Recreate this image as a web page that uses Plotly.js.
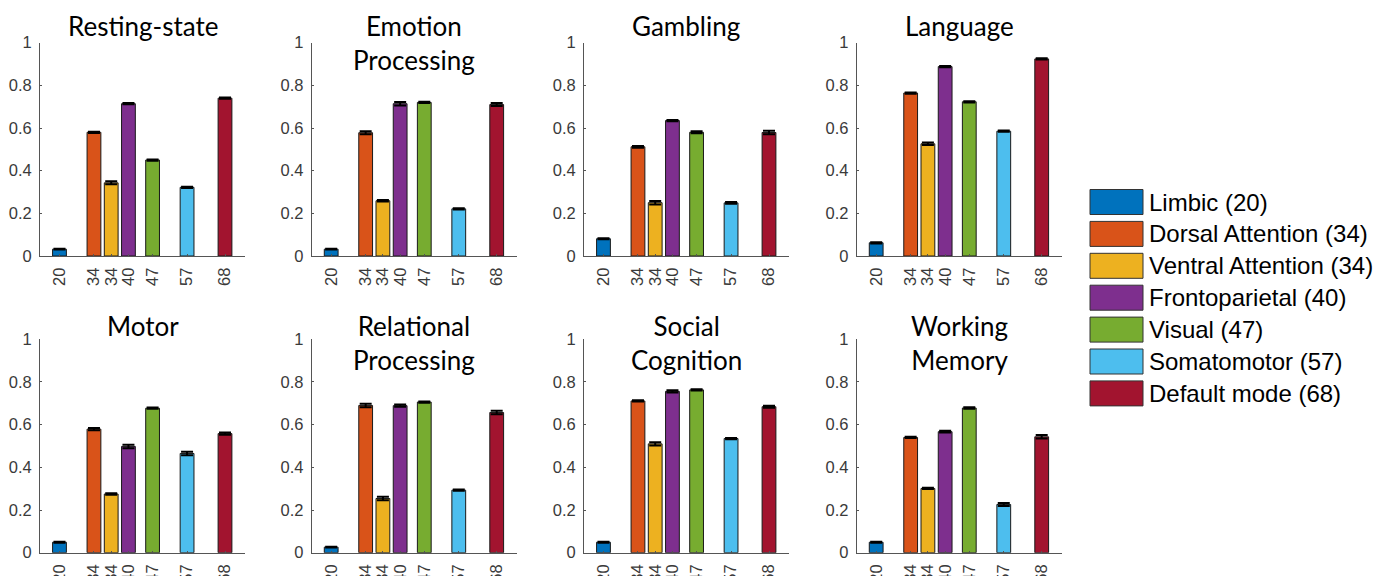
<!DOCTYPE html>
<html>
<head>
<meta charset="utf-8">
<script src="https://cdn.plot.ly/plotly-3.0.1.min.js"></script>
<style>
  html, body { margin: 0; padding: 0; background: #ffffff; }
  #chart { width: 1391px; height: 576px; }
</style>
</head>
<body>
<div id="chart"></div>
<script>
// ---------------- DATA ----------------
const networks = ['Limbic', 'Dorsal Attention', 'Ventral Attention', 'Frontoparietal', 'Visual', 'Somatomotor', 'Default mode'];
const networkSizes = [20, 34, 34, 40, 47, 57, 68];
const barPositions = [20, 30, 35, 40, 47, 57, 68];
const tickLabels = ['20', '34', '34', '40', '47', '57', '68'];
const networkColors = ['#0072BD', '#D95319', '#EDB120', '#7E2F8E', '#77AC30', '#4DBEEE', '#A2142F'];

const tasks = ['Resting-state', 'Emotion<br>Processing', 'Gambling', 'Language',
               'Motor', 'Relational<br>Processing', 'Social<br>Cognition', 'Working<br>Memory'];

const restingState     = [0.032, 0.580, 0.343, 0.714, 0.450, 0.322, 0.740];
const emotionProc      = [0.032, 0.578, 0.259, 0.714, 0.720, 0.221, 0.710];
const gambling         = [0.081, 0.512, 0.250, 0.635, 0.580, 0.249, 0.579];
const language         = [0.062, 0.764, 0.526, 0.888, 0.723, 0.585, 0.924];
const motor            = [0.049, 0.579, 0.275, 0.498, 0.677, 0.465, 0.558];
const relationalProc   = [0.026, 0.690, 0.254, 0.689, 0.706, 0.293, 0.657];
const socialCognition  = [0.049, 0.711, 0.510, 0.756, 0.763, 0.535, 0.684];
const workingMemory    = [0.049, 0.540, 0.301, 0.567, 0.678, 0.226, 0.543];

const restingStateErr    = [0.002, 0.003, 0.007, 0.003, 0.003, 0.003, 0.003];
const emotionProcErr     = [0.002, 0.007, 0.003, 0.008, 0.003, 0.003, 0.007];
const gamblingErr        = [0.002, 0.004, 0.008, 0.003, 0.005, 0.004, 0.008];
const languageErr        = [0.003, 0.003, 0.006, 0.003, 0.003, 0.003, 0.003];
const motorErr           = [0.002, 0.005, 0.003, 0.008, 0.003, 0.008, 0.005];
const relationalProcErr  = [0.002, 0.008, 0.008, 0.005, 0.003, 0.003, 0.008];
const socialCognitionErr = [0.002, 0.003, 0.008, 0.005, 0.003, 0.003, 0.005];
const workingMemoryErr   = [0.002, 0.003, 0.003, 0.004, 0.003, 0.007, 0.008];

const taskValues = [restingState, emotionProc, gambling, language, motor, relationalProc, socialCognition, workingMemory];
const taskErrors = [restingStateErr, emotionProcErr, gamblingErr, languageErr, motorErr, relationalProcErr, socialCognitionErr, workingMemoryErr];

// ---------------- LAYOUT ----------------
const W = 1391, H = 576;
const colLeftPx = [40, 311.7, 584, 856.7];
const panelWidthPx = 205;
const rowTopPx = [42.7, 339.3];
const rowBottomPx = [256, 552.7];
const titleTopPx = [8, 308];

const tickFont = { family: 'Liberation Sans, Arial, sans-serif', size: 16.5, color: '#3a3a3a' };

const data = [];
const layout = {
  width: W, height: H,
  margin: { l: 0, r: 0, t: 0, b: 0 },
  paper_bgcolor: '#ffffff',
  plot_bgcolor: '#ffffff',
  showlegend: false,
  annotations: [],
  shapes: []
};

for (let i = 0; i < 8; i++) {
  const row = Math.floor(i / 4), col = i % 4;
  const idx = i + 1;
  const xa = idx === 1 ? 'xaxis' : 'xaxis' + idx;
  const ya = idx === 1 ? 'yaxis' : 'yaxis' + idx;
  const xr = idx === 1 ? 'x' : 'x' + idx;
  const yr = idx === 1 ? 'y' : 'y' + idx;

  data.push({
    type: 'bar',
    x: barPositions,
    y: taskValues[i],
    width: 4,
    xaxis: xr, yaxis: yr,
    marker: { color: networkColors, line: { color: '#1a1a1a', width: 1 } },
    error_y: { type: 'data', array: taskErrors[i], visible: true, color: '#000000', thickness: 2, width: 6 },
    hoverinfo: 'x+y'
  });

  const x0 = colLeftPx[col] / W, x1 = (colLeftPx[col] + panelWidthPx) / W;
  layout[xa] = {
    domain: [x0, x1],
    anchor: yr,
    range: [14.35, 73.8],
    tickmode: 'array',
    tickvals: barPositions,
    ticktext: tickLabels,
    tickangle: -90,
    ticks: 'inside', ticklen: 2, tickcolor: '#555',
    showline: true, linecolor: '#555', linewidth: 1,
    showgrid: false, zeroline: false,
    tickfont: tickFont,
    ticklabelstandoff: 4,
    fixedrange: true
  };
  layout[ya] = {
    domain: [1 - rowBottomPx[row] / H, 1 - rowTopPx[row] / H],
    anchor: xr,
    range: [0, 1],
    tickmode: 'array',
    tickvals: [0, 0.2, 0.4, 0.6, 0.8, 1],
    ticktext: ['0', '0.2', '0.4', '0.6', '0.8', '1'],
    ticks: 'inside', ticklen: 2, tickcolor: '#555',
    showline: true, linecolor: '#555', linewidth: 1,
    showgrid: false, zeroline: false,
    tickfont: tickFont,
    ticklabelstandoff: 4,
    fixedrange: true
  };

  layout.annotations.push({
    text: tasks[i],
    xref: 'paper', yref: 'paper',
    x: (x0 + x1) / 2, y: 1 - titleTopPx[row] / H,
    xanchor: 'center', yanchor: 'top',
    showarrow: false,
    font: { family: 'Lato, Carlito, sans-serif', size: 26, color: '#000000' }
  });
}

// Custom legend (swatches + labels) on the right
const legSwatchX0 = 1090, legSwatchX1 = 1143, legTop = 202, legStep = 31.9, legSwatchH = 25;
for (let k = 0; k < networks.length; k++) {
  const cy = legTop + k * legStep;
  layout.shapes.push({
    type: 'rect', xref: 'paper', yref: 'paper',
    x0: legSwatchX0 / W, x1: legSwatchX1 / W,
    y0: 1 - (cy + legSwatchH / 2) / H, y1: 1 - (cy - legSwatchH / 2) / H,
    fillcolor: networkColors[k],
    line: { color: '#333333', width: 1 }
  });
  layout.annotations.push({
    text: networks[k] + ' (' + networkSizes[k] + ')',
    xref: 'paper', yref: 'paper',
    x: 1147 / W, y: 1 - cy / H,
    xanchor: 'left', yanchor: 'middle',
    showarrow: false,
    font: { family: 'Liberation Sans, Arial, sans-serif', size: 24, color: '#000000' }
  });
}

Plotly.newPlot('chart', data, layout, { displayModeBar: false, staticPlot: false });
</script>
</body>
</html>
